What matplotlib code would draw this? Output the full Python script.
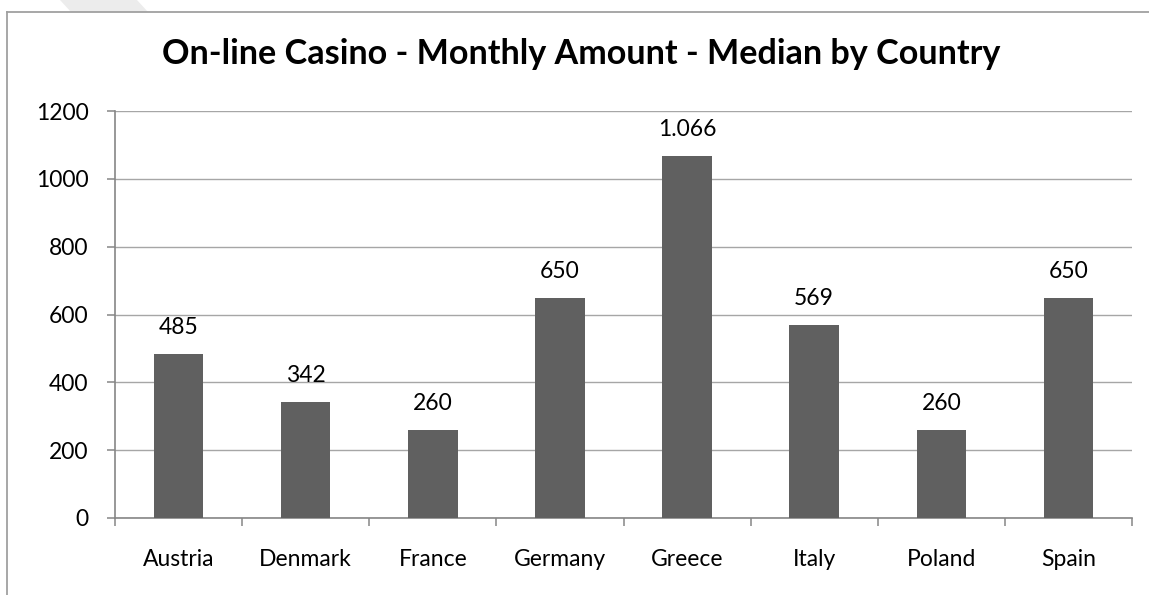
import matplotlib
matplotlib.use("Agg")
import matplotlib.pyplot as plt
from matplotlib.lines import Line2D
from matplotlib.patches import Polygon

countries = ["Austria", "Denmark", "France", "Germany", "Greece", "Italy", "Poland", "Spain"]
values = [485, 342, 260, 650, 1066, 569, 260, 650]
value_labels = ["485", "342", "260", "650", "1.066", "569", "260", "650"]
yticks = [0, 200, 400, 600, 800, 1000, 1200]
title = "On-line Casino - Monthly Amount - Median by Country"

W, H = 1149, 595
plt.rcParams['font.family'] = ['Lato', 'DejaVu Sans']
fig = plt.figure(figsize=(W / 100, H / 100), dpi=100)

def fx(px):
    return px / W

def fy(py):
    return 1 - py / H

# faint decorative shape above the chart frame
fig.patches.append(Polygon([(fx(60), fy(0)), (fx(137), fy(0)), (fx(148), fy(12)), (fx(71), fy(12))],
                           closed=True, transform=fig.transFigure, facecolor="#ececec",
                           edgecolor="none", zorder=0))
# chart frame (left and top edges visible)
fig.lines.append(Line2D([fx(7), fx(7)], [fy(12), 0], transform=fig.transFigure, color="#a0a0a0", lw=1.3))
fig.lines.append(Line2D([fx(7), 1], [fy(12), fy(12)], transform=fig.transFigure, color="#a0a0a0", lw=1.3))

left, right, top, bottom = 115, 1132, 111, 518
ax = fig.add_axes([fx(left), fy(bottom), fx(right) - fx(left), fy(top) - fy(bottom)])

n = len(countries)
centers = [i + 0.5 for i in range(n)]
ax.bar(centers, values, width=0.39, color="#606060", zorder=3)

for c, v, lab in zip(centers, values, value_labels):
    ax.annotate(lab, (c, v), xytext=(0, 14.4), textcoords="offset points",
                ha="center", va="baseline", fontsize=16.5, color="#000000")

ax.set_xlim(0, n)
ax.set_ylim(0, 1200)
ax.set_yticks(yticks)
ax.set_yticklabels([str(t) for t in yticks])
ax.yaxis.grid(True, color="#a6a6a6", lw=1.0, zorder=0)
ax.set_axisbelow(True)

ax.set_xticks(list(range(n + 1)))
ax.set_xticklabels([])
ax.set_xticks(centers, minor=True)
ax.set_xticklabels(countries, minor=True)
ax.tick_params(axis="x", which="major", length=6, width=1.1, color="#868686", direction="out")
ax.tick_params(axis="x", which="minor", length=0, pad=22, labelsize=16.5)
ax.tick_params(axis="y", length=6, width=1.1, color="#868686", pad=13, labelsize=16.5)

for s in ["top", "right"]:
    ax.spines[s].set_visible(False)
for s in ["left", "bottom"]:
    ax.spines[s].set_color("#868686")
    ax.spines[s].set_linewidth(1.2)

fig.text(fx(581), fy(54), title, ha="center", va="center", fontsize=24.6, fontweight="bold", color="#000000")

fig.savefig("out.png", dpi=100)
